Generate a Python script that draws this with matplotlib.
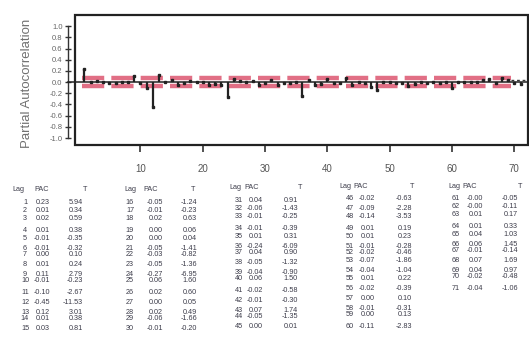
import matplotlib
matplotlib.use("Agg")
import matplotlib.pyplot as plt
from matplotlib.patches import Rectangle

# Partial autocorrelation by lag, with t statistics
lags = list(range(1, 72))
pac = [0.23, 0.01, 0.02, 0.01, -0.01, -0.01, 0.00, 0.01, 0.11, -0.01,
       -0.10, -0.45, 0.12, 0.01, 0.03,
       -0.05, -0.01, 0.02, 0.00, 0.00, -0.05, -0.03, -0.05, -0.27, 0.06,
       0.02, 0.00, 0.02, -0.06, -0.01,
       0.04, -0.06, -0.01, -0.01, 0.01, -0.24, 0.04, -0.05, -0.04, 0.06,
       -0.02, -0.01, 0.07, -0.05, 0.00,
       -0.02, -0.09, -0.14, 0.01, 0.01, -0.01, -0.02, -0.07, -0.04, 0.01,
       -0.02, 0.00, -0.01, 0.00, -0.11,
       -0.00, -0.00, 0.01, 0.01, 0.04, 0.06, -0.01, 0.07, 0.04, -0.02, -0.04]
pac_text = ["0.23", "0.01", "0.02", "0.01", "-0.01", "-0.01", "0.00", "0.01", "0.11", "-0.01",
            "-0.10", "-0.45", "0.12", "0.01", "0.03",
            "-0.05", "-0.01", "0.02", "0.00", "0.00", "-0.05", "-0.03", "-0.05", "-0.27", "0.06",
            "0.02", "0.00", "0.02", "-0.06", "-0.01",
            "0.04", "-0.06", "-0.01", "-0.01", "0.01", "-0.24", "0.04", "-0.05", "-0.04", "0.06",
            "-0.02", "-0.01", "0.07", "-0.05", "0.00",
            "-0.02", "-0.09", "-0.14", "0.01", "0.01", "-0.01", "-0.02", "-0.07", "-0.04", "0.01",
            "-0.02", "0.00", "-0.01", "0.00", "-0.11",
            "-0.00", "-0.00", "0.01", "0.01", "0.04", "0.06", "-0.01", "0.07", "0.04", "-0.02", "-0.04"]
t_vals = ["5.94", "0.34", "0.59", "0.38", "-0.35", "-0.32", "0.10", "0.24", "2.79", "-0.23",
          "-2.67", "-11.53", "3.01", "0.38", "0.81",
          "-1.24", "-0.23", "0.63", "0.06", "0.04", "-1.41", "-0.82", "-1.36", "-6.95", "1.60",
          "0.60", "0.05", "0.49", "-1.66", "-0.20",
          "0.91", "-1.43", "-0.25", "-0.39", "0.31", "-6.09", "0.90", "-1.32", "-0.90", "1.50",
          "-0.58", "-0.30", "1.74", "-1.35", "0.01",
          "-0.63", "-2.28", "-3.53", "0.19", "0.23", "-0.28", "-0.46", "-1.86", "-1.04", "0.22",
          "-0.39", "0.10", "-0.31", "0.13", "-2.83",
          "-0.05", "-0.11", "0.17", "0.33", "1.03", "1.45", "-0.14", "1.69", "0.97", "-0.48", "-1.06"]
conf_limit = 0.065
y_ticks = [1.0, 0.8, 0.6, 0.4, 0.2, 0.0, -0.2, -0.4, -0.6, -0.8, -1.0]
x_ticks = [10, 20, 30, 40, 50, 60, 70]

W, H = 529, 347
fig = plt.figure(figsize=(W / 100, H / 100), dpi=100)
plt.rcParams['font.family'] = ['Liberation Sans', 'DejaVu Sans']


def px(x, y):
    return x / W, 1 - y / H


ax = fig.add_axes([75 / W, 1 - 145 / H, (528 - 75) / W, 130 / H])
ax.set_xlim(-0.5, 72.2)
ax.set_ylim(-1.125, 1.2)

for s in ['top', 'right', 'bottom']:
    ax.spines[s].set_visible(False)
ax.spines['left'].set_position(('outward', 5))
ax.spines['left'].set_bounds(-1.0, 1.0)
ax.spines['left'].set_linewidth(1.0)
ax.spines['left'].set_color('#333333')
ax.add_patch(Rectangle((0, 0), 1, 1, transform=ax.transAxes, fill=False,
                       lw=1.6, ec='#222222', clip_on=False, zorder=5))

ax.set_yticks(y_ticks)
ax.set_yticklabels([f"{v:.1f}" for v in y_ticks])
ax.tick_params(axis='y', direction='inout', length=4, width=1.0, colors='#333333',
               labelsize=5.5, labelcolor='#666666', pad=2)
ax.set_xticks(x_ticks)
ax.tick_params(axis='x', direction='out', length=5, width=1.2, colors='#333333',
               labelsize=7, labelcolor='#555555', pad=9)
ax.xaxis.set_ticks_position('bottom')

# confidence limits
for c in (conf_limit, -conf_limit):
    ax.plot([0.6, 69.5], [c, c], color='#de5f78', lw=3.2, dashes=(5, 1.6),
            alpha=0.9, solid_capstyle='butt', zorder=2)
ax.plot([69.5, 72.2], [0.03, 0.03], color='#333333', lw=1.0, dashes=(2, 2), zorder=3)

# zero line
ax.axhline(0, xmin=-0.015, xmax=1, color='#222222', lw=1.1, clip_on=False, zorder=3)

# PAC bars
ax.vlines(lags, 0, pac, color='#222222', lw=1.6, zorder=4)
ax.plot(lags, pac, ls='none', marker='s', ms=1.8, color='#222222', zorder=4)

fig.text(*px(27, 83.5), "Partial Autocorrelation", rotation=90, ha='center', va='center',
         fontsize=9.5, color='#707070')

# statistics table
row_y = [202, 211, 219, 231, 239, 249, 255, 264, 274, 281, 292, 302, 312, 318, 329]
group_dy = [0, 0, -2, -3, -4]
lag_x = [25, 130, 239, 350, 456]
pac_x = [50, 163, 263, 375, 483]
t_x = [83, 197, 298, 412, 518]
hdr_lag = [18, 130, 235, 345, 454]
hdr_pac = [42, 151, 252, 361, 470]
hdr_t = [85, 193, 300, 412, 520]
tcol = '#3c3c4a'
tfs = 5.2
for g in range(5):
    dy = group_dy[g]
    hy = 190 + dy
    fig.text(*px(hdr_lag[g], hy), "Lag", ha='center', va='center', fontsize=tfs, color=tcol)
    fig.text(*px(hdr_pac[g], hy), "PAC", ha='center', va='center', fontsize=tfs, color=tcol)
    fig.text(*px(hdr_t[g], hy), "T", ha='center', va='center', fontsize=tfs, color=tcol)
    for r in range(15):
        i = g * 15 + r
        if i >= len(lags):
            break
        y = row_y[r] + dy
        fig.text(*px(lag_x[g], y), str(lags[i]), ha='center', va='center', fontsize=tfs, color=tcol)
        fig.text(*px(pac_x[g], y), pac_text[i], ha='right', va='center', fontsize=tfs, color=tcol)
        fig.text(*px(t_x[g], y), t_vals[i], ha='right', va='center', fontsize=tfs, color=tcol)

fig.savefig("out.png", dpi=100)
